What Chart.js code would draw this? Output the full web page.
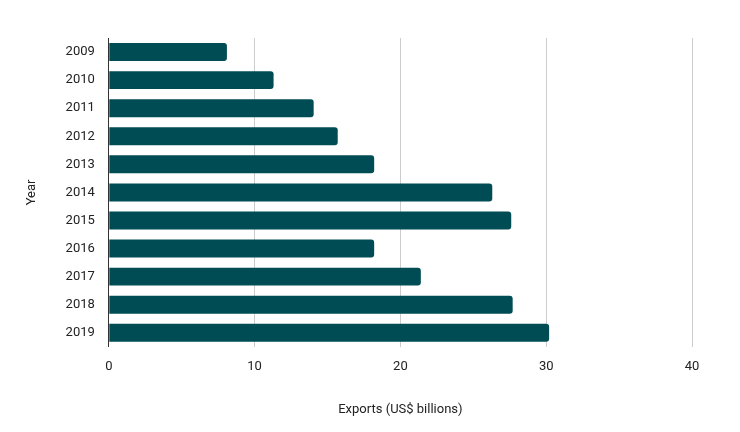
<!DOCTYPE html>
<html><head><meta charset="utf-8">
<script src="https://cdn.jsdelivr.net/npm/chart.js@4"></script>
<style>html,body{margin:0;padding:0;background:#fff}#w{width:740px;height:432px}</style>
</head><body><div id="w"><canvas id="c"></canvas></div>
<script>
const years = ["2009","2010","2011","2012","2013","2014","2015","2016","2017","2018","2019"];
const exportsValues = [8.1,11.3,14.05,15.7,18.2,26.3,27.6,18.2,21.4,27.7,30.2];
const xTicks = [0,10,20,30,40];
Chart.defaults.font.family = "Roboto, Arial, sans-serif";
Chart.defaults.color = "#222";
new Chart(document.getElementById('c'), {
  type: 'bar',
  data: { labels: years, datasets: [{ data: exportsValues, backgroundColor: '#004c54',
    borderRadius: 3, borderSkipped: 'start', barPercentage: 0.64, categoryPercentage: 1 }] },
  options: {
    indexAxis: 'y', responsive: true, maintainAspectRatio: false, animation: false,
    layout: { padding: { top: 38, right: 48, bottom: 10, left: 20 } },
    plugins: { legend: { display: false }, tooltip: { enabled: false } },
    scales: {
      x: { min: xTicks[0], max: xTicks[xTicks.length-1],
        afterBuildTicks: a => { a.ticks = xTicks.map(v => ({ value: v })); },
        grid: { color: '#cccccc', drawTicks: false }, border: { display: false },
        ticks: { padding: 12, font: { size: 13 } },
        title: { display: true, text: 'Exports (US$ billions)', font: { size: 13 }, padding: { top: 16 } } },
      y: { grid: { display: false }, border: { color: '#333', width: 1 },
        ticks: { font: { size: 13 }, padding: 6 },
        title: { display: true, text: 'Year', font: { size: 13 }, padding: { bottom: 20 } } }
    }
  }
});
</script></body></html>
